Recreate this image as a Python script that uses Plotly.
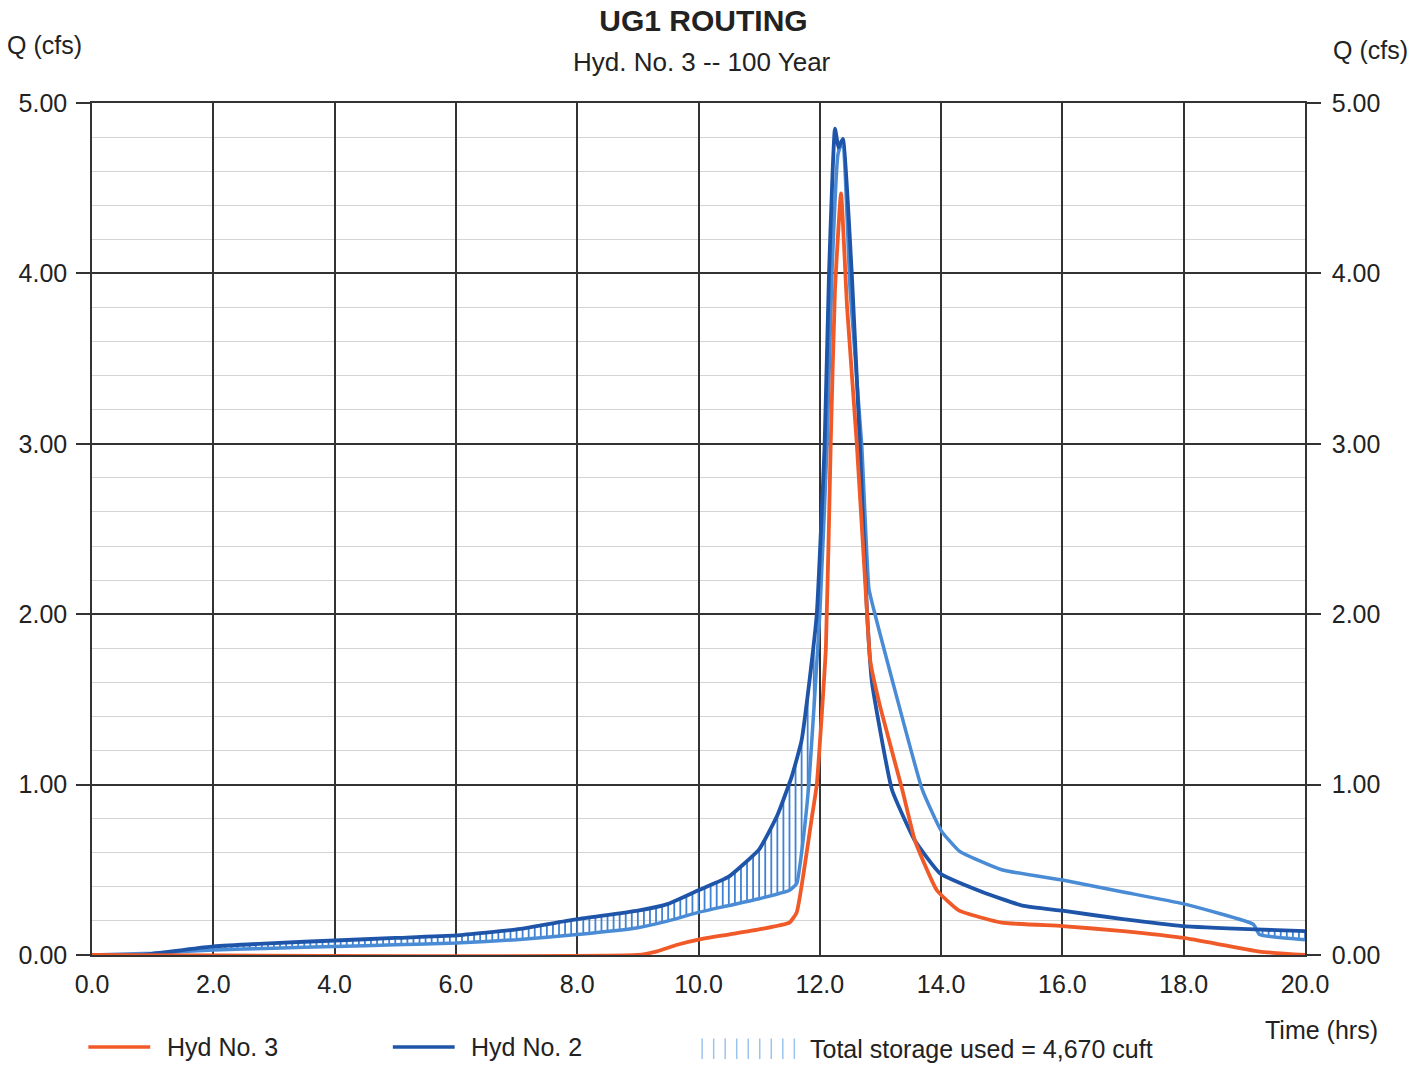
import numpy as np
import plotly.graph_objects as go

# ---------------- data ----------------
# Hyd No. 2 (inflow, dark blue)
hyd2_t = [0.0, 0.8, 2.0, 3.0, 4.0, 5.0, 6.0, 7.0, 8.0, 9.0, 9.5, 10.0, 10.5, 11.0, 11.3,
          11.54, 11.70, 11.83, 11.95, 12.08, 12.15, 12.25, 12.31, 12.38, 12.53, 12.66,
          12.78, 12.86, 13.19, 13.57, 13.98, 14.68, 15.34, 16.0, 17.0, 17.98, 19.19, 20.0]
hyd2_q = [0.0, 0.0, 0.05, 0.07, 0.085, 0.10, 0.115, 0.15, 0.21, 0.26, 0.30, 0.38, 0.46, 0.62, 0.82,
          1.05, 1.26, 1.61, 2.0, 3.0, 3.98, 4.85, 4.74, 4.79, 3.98, 3.0,
          2.0, 1.6, 0.97, 0.67, 0.48, 0.37, 0.29, 0.26, 0.21, 0.17, 0.15, 0.14]

# Storage boundary (light blue)
stor_t = [0.0, 1.0, 2.0, 3.0, 4.0, 5.0, 6.0, 7.0, 8.0, 9.0, 9.5, 10.0, 10.5, 11.0, 11.5,
          11.62, 11.75, 11.82, 12.0, 12.12, 12.2, 12.3, 12.38, 12.5, 12.69, 12.81,
          12.91, 13.69, 14.0, 14.3, 15.0, 16.0, 17.0, 18.0, 19.15, 19.25, 20.0]
stor_q = [0.0, 0.01, 0.03, 0.04, 0.05, 0.06, 0.07, 0.09, 0.12, 0.16, 0.20, 0.25, 0.29, 0.33, 0.38,
          0.42, 0.75, 1.0, 2.0, 3.0, 4.0, 4.7, 4.78, 3.9, 3.0, 2.15,
          2.0, 0.97, 0.73, 0.61, 0.50, 0.44, 0.37, 0.30, 0.18, 0.12, 0.09]

# Hyd No. 3 (outflow, orange)
hyd3_t = [0.0, 9.0, 9.3, 9.65, 10.0, 10.5, 11.0, 11.5, 11.62, 11.87, 11.95, 12.1, 12.18,
          12.25, 12.35, 12.45, 12.61, 12.78, 12.83, 13.0, 13.36, 13.57, 13.93, 14.3,
          15.0, 16.0, 17.0, 18.0, 19.25, 20.0]
hyd3_q = [0.0, 0.0, 0.02, 0.06, 0.09, 0.12, 0.15, 0.19, 0.25, 0.81, 1.0, 1.8, 3.0,
          3.9, 4.47, 3.8, 3.0, 2.0, 1.73, 1.45, 0.97, 0.67, 0.38, 0.26,
          0.19, 0.17, 0.14, 0.10, 0.02, 0.0]

x_ticks = [0, 2, 4, 6, 8, 10, 12, 14, 16, 18, 20]
y_ticks = [0, 1, 2, 3, 4, 5]
hatch_step = 0.1

# ---------------- colours / fonts ----------------
ORANGE = "#f05a28"
DARK = "#1f55a8"
LIGHT = "#4a8bd6"
HATCH = "#3f82d4"
FONT = "Liberation Sans, Arial, sans-serif"

# hatch segments between inflow and storage boundary
hx, hy = [], []
for t in np.arange(0.0, 20.0 + 1e-9, hatch_step):
    d = float(np.interp(t, hyd2_t, hyd2_q))
    s = float(np.interp(t, stor_t, stor_q))
    if d - s > 0.004:
        hx += [t, t, None]
        hy += [s, d, None]

fig = go.Figure()
fig.add_trace(go.Scatter(x=hx, y=hy, mode="lines", line=dict(color=HATCH, width=1.8),
                         hoverinfo="skip", showlegend=False))
fig.add_trace(go.Scatter(x=stor_t, y=stor_q, mode="lines",
                         line=dict(color=LIGHT, width=3.5, shape="spline", smoothing=0.4),
                         showlegend=False))
fig.add_trace(go.Scatter(x=hyd2_t, y=hyd2_q, mode="lines",
                         line=dict(color=DARK, width=3.8, shape="spline", smoothing=0.4),
                         name="Hyd No. 2", showlegend=False))
fig.add_trace(go.Scatter(x=hyd3_t, y=hyd3_q, mode="lines",
                         line=dict(color=ORANGE, width=3.8, shape="spline", smoothing=0.4),
                         name="Hyd No. 3", showlegend=False))
# invisible trace to activate right axis
fig.add_trace(go.Scatter(x=[0, 20], y=[0, 5], yaxis="y2", mode="lines",
                         line=dict(width=0), opacity=0, hoverinfo="skip", showlegend=False))

tick_font = dict(family=FONT, size=25, color="#222")

fig.update_layout(
    width=1427, height=1065,
    paper_bgcolor="white", plot_bgcolor="white",
    margin=dict(l=92, r=122, t=103, b=110),
    title=dict(text="<b>UG1 ROUTING</b>", x=0.493, xanchor="center", y=0.981, yanchor="middle",
               font=dict(family=FONT, size=30, color="#222")),
    xaxis=dict(range=[0, 20], tickvals=x_ticks, ticktext=[f"{v:.1f}" for v in x_ticks],
               showgrid=True, gridcolor="#333", gridwidth=1.5, zeroline=False,
               showline=True, linecolor="#333", linewidth=1.5, mirror=True,
               ticks="", ticklabelstandoff=6, tickfont=tick_font),
    yaxis=dict(range=[0, 5], tickvals=y_ticks, ticktext=[f"{v:.2f}" for v in y_ticks],
               showgrid=True, gridcolor="#333", gridwidth=1.5, zeroline=False,
               showline=True, linecolor="#333", linewidth=1.5,
               ticks="outside", ticklen=14, tickcolor="#333", tickwidth=1.5,
               ticklabelstandoff=4, tickfont=tick_font,
               minor=dict(dtick=0.2, showgrid=True, gridcolor="#d4d4d4", gridwidth=1.3, ticks="")),
    yaxis2=dict(range=[0, 5], tickvals=y_ticks, ticktext=[f"{v:.2f}" for v in y_ticks],
                overlaying="y", side="right", showgrid=False, zeroline=False,
                showline=True, linecolor="#333", linewidth=1.5,
                ticks="outside", ticklen=14, tickcolor="#333", tickwidth=1.5,
                ticklabelstandoff=6, tickfont=tick_font),
    showlegend=False,
)

ann_font = dict(family=FONT, size=25, color="#222")
annotations = [
    dict(text="Hyd. No. 3 -- 100 Year", x=0.503, y=1.048, xref="paper", yref="paper",
         showarrow=False, font=dict(family=FONT, size=26, color="#222"),
         xanchor="center", yanchor="middle"),
    dict(text="Q (cfs)", x=-0.039, y=1.068, xref="paper", yref="paper",
         showarrow=False, font=ann_font, xanchor="center", yanchor="middle"),
    dict(text="Q (cfs)", x=1.054, y=1.062, xref="paper", yref="paper",
         showarrow=False, font=ann_font, xanchor="center", yanchor="middle"),
    dict(text="Time (hrs)", x=1.014, y=-0.088, xref="paper", yref="paper",
         showarrow=False, font=ann_font, xanchor="center", yanchor="middle"),
    dict(text="Hyd No. 3", x=0.060, y=-0.108, xref="paper", yref="paper",
         showarrow=False, font=ann_font, xanchor="left", yanchor="middle"),
    dict(text="Hyd No. 2", x=0.311, y=-0.108, xref="paper", yref="paper",
         showarrow=False, font=ann_font, xanchor="left", yanchor="middle"),
    dict(text="Total storage used = 4,670 cuft", x=0.590, y=-0.110, xref="paper", yref="paper",
         showarrow=False, font=ann_font, xanchor="left", yanchor="middle"),
]
shapes = [
    dict(type="line", xref="paper", yref="paper", x0=-0.003, x1=0.048, y0=-0.108, y1=-0.108,
         line=dict(color=ORANGE, width=3.5)),
    dict(type="line", xref="paper", yref="paper", x0=0.248, x1=0.299, y0=-0.108, y1=-0.108,
         line=dict(color=DARK, width=3.5)),
]
# legend hatch symbol
for i in range(9):
    xp = 0.503 + i * 0.0095
    shapes.append(dict(type="line", xref="paper", yref="paper", x0=xp, x1=xp,
                       y0=-0.098, y1=-0.122, line=dict(color="#9cc3ee", width=1.5)))
fig.update_layout(annotations=annotations, shapes=shapes)

# remove the browser's default 8px body margin so the figure fills the window exactly
fig.write_html("out.html",
               config={"displayModeBar": False},
               post_script="document.body.style.margin='0px';document.body.style.overflow='hidden';")
